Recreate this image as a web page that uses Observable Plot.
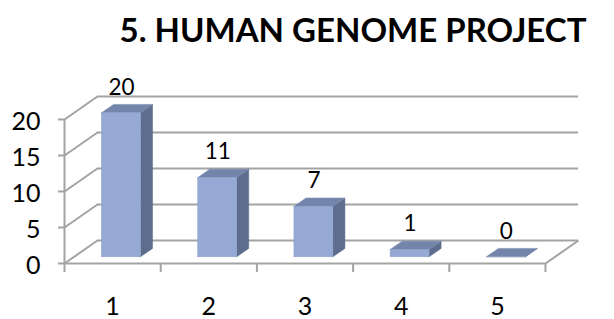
<!DOCTYPE html>
<html>
<head>
<meta charset="utf-8">
<script src="https://cdn.jsdelivr.net/npm/d3@7"></script>
<script src="https://cdn.jsdelivr.net/npm/@observablehq/plot@0.6"></script>
<style>
  html, body { margin: 0; padding: 0; background: #fff; }
</style>
</head>
<body>
<div id="chart"></div>
<script>
const title = "5. HUMAN GENOME PROJECT";
const categories = ["1", "2", "3", "4", "5"];
const values = [20, 11, 7, 1, 0];
const yTicks = [0, 5, 10, 15, 20];

// oblique depth (in data units) and bar geometry
const DX = 0.343, DY = 3.19;
const F0 = 0.27, F1 = 0.635, W = 0.405;
const N = categories.length;

const bars = categories.map((c, i) => ({cat: c, v: values[i], c: i + 0.5}));

const sidePts = bars.flatMap(b => [
  {z: b.cat, x: b.c + W/2 + F0*DX, y1: F0*DY, y2: b.v + F0*DY},
  {z: b.cat, x: b.c + W/2 + F1*DX, y1: F1*DY, y2: b.v + F1*DY}
]);
const topPts = bars.flatMap(b => [
  {z: b.cat, y: b.v + F0*DY, x1: b.c - W/2 + F0*DX, x2: b.c + W/2 + F0*DX},
  {z: b.cat, y: b.v + F1*DY, x1: b.c - W/2 + F1*DX, x2: b.c + W/2 + F1*DX}
]);

const grey = "#a3a3a3";

const plot = Plot.plot({
  width: 614,
  height: 319,
  marginLeft: 64,
  marginRight: 69,
  marginTop: 119,
  marginBottom: 56,
  style: {fontFamily: "Lato, 'Open Sans', sans-serif", fontSize: "22px", background: "#fff", color: "#000"},
  x: {domain: [0, N], axis: null},
  y: {domain: [0, 20], axis: null},
  marks: [
    // back wall gridlines
    Plot.ruleY(yTicks, {y: d => d + DY, x1: DX, x2: N + DX, stroke: grey, strokeWidth: 2}),
    // left wall diagonals
    Plot.link(yTicks, {x1: 0, y1: d => d, x2: DX, y2: d => d + DY, stroke: grey, strokeWidth: 2}),
    // floor right edge
    Plot.link([0], {x1: N, y1: 0, x2: N + DX, y2: DY, stroke: grey, strokeWidth: 2}),
    // front axes
    Plot.ruleY([0], {x1: 0, x2: N, stroke: grey, strokeWidth: 2}),
    Plot.ruleX([0], {y1: 0, y2: 20, stroke: grey, strokeWidth: 2}),
    // y ticks
    Plot.ruleY(yTicks, {x1: -6/96.2, x2: 0, stroke: grey, strokeWidth: 2}),
    // x ticks
    Plot.ruleX(d3.range(N + 1), {y1: 0, y2: -9/7.2, stroke: grey, strokeWidth: 2}),
    // bars: side faces
    Plot.areaY(sidePts, {x: "x", y1: "y1", y2: "y2", z: "z", fill: "#5e6c8d", stroke: "#5e6c8d", strokeWidth: 0.5}),
    // bars: top faces
    Plot.areaX(topPts, {y: "y", x1: "x1", x2: "x2", z: "z", fill: "#7385aa", stroke: "#7385aa", strokeWidth: 0.5}),
    // bars: front faces
    Plot.rect(bars, {
      x1: d => d.c - W/2 + F0*DX, x2: d => d.c + W/2 + F0*DX,
      y1: F0*DY, y2: d => d.v + F0*DY,
      fill: "#95a9d4", stroke: "#8a9dc8", strokeWidth: 0.5
    }),
    // value labels
    Plot.text(bars, {x: d => d.c + F0*DX, y: d => d.v + F0*DY, text: d => String(d.v), dy: -26, fontSize: 22.5, lineAnchor: "middle", fill: "#000"}),
    // y tick labels
    Plot.text(yTicks, {x: 0, y: d => d, text: d => String(d), dx: -24, dy: 2, textAnchor: "end", lineAnchor: "middle", fontSize: 25, fill: "#000"}),
    // x tick labels
    Plot.text(bars, {x: "c", y: 0, text: "cat", dy: 43, lineAnchor: "middle", fontSize: 25, fill: "#000"}),
    // title
    Plot.text([title], {frameAnchor: "top", dx: 48, dy: -88, lineAnchor: "middle", fontSize: 33, fontWeight: "bold", fill: "#000"})
  ]
});

document.getElementById("chart").appendChild(plot);
</script>
</body>
</html>
